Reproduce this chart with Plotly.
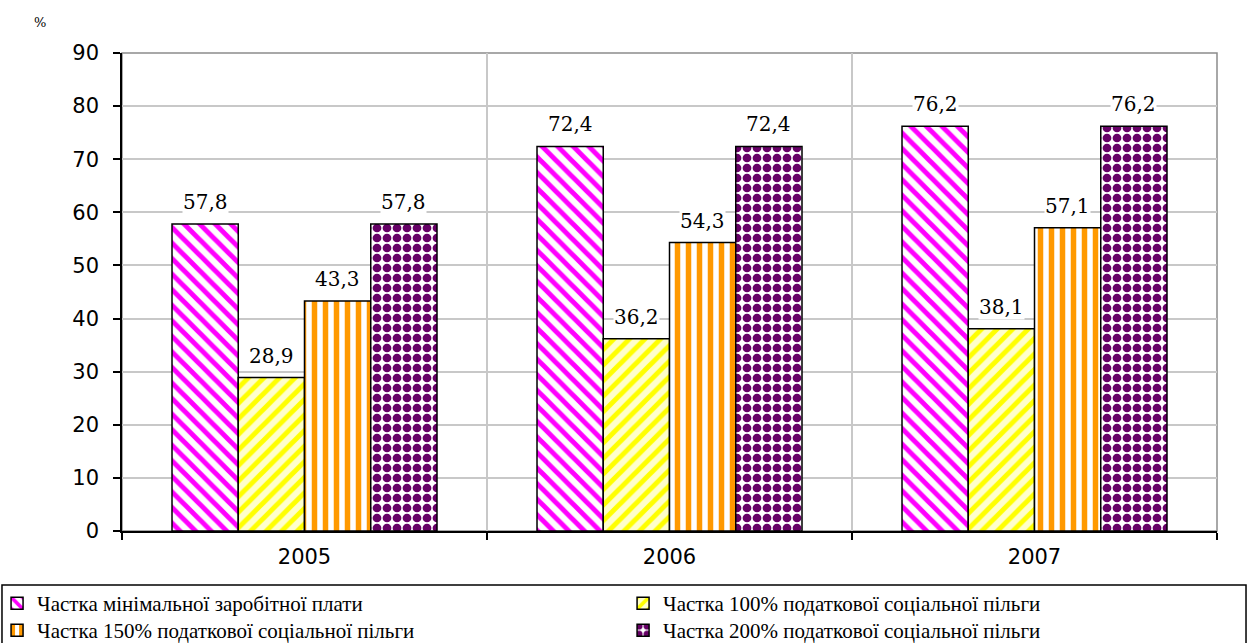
import plotly.graph_objects as go

years = ["2005", "2006", "2007"]
series_names = [
    "Частка мінімальної заробітної плати",
    "Частка 100% податкової соціальної пільги",
    "Частка 150% податкової соціальної пільги",
    "Частка 200% податкової соціальної пільги",
]
min_wage = [57.8, 72.4, 76.2]
benefit_100 = [28.9, 36.2, 38.1]
benefit_150 = [43.3, 54.3, 57.1]
benefit_200 = [57.8, 72.4, 76.2]
y_ticks = [0, 10, 20, 30, 40, 50, 60, 70, 80, 90]

series_values = [min_wage, benefit_100, benefit_150, benefit_200]
styles = [
    dict(shape="\\", fg="#FF00FF", bg="#FFFFFF", size=11, solidity=0.45),
    dict(shape="/", fg="#FFFF00", bg="#FFFFCC", size=11, solidity=0.45),
    dict(shape="|", fg="#FF9900", bg="#FFFFFF", size=11, solidity=0.5),
    dict(shape=".", fg="#660066", bg="#FFFFFF", size=10, solidity=0.6),
]
legend_ids = ["legend", "legend2", "legend3", "legend4"]

BARGAP = 0.274
fig = go.Figure()
for name, vals, st, lid in zip(series_names, series_values, styles, legend_ids):
    fig.add_trace(go.Bar(
        x=years, y=vals, name=name, legend=lid,
        marker=dict(
            color=st["bg"],
            line=dict(color="black", width=1.5),
            pattern=dict(shape=st["shape"], fgcolor=st["fg"], bgcolor=st["bg"],
                         size=st["size"], solidity=st["solidity"], fillmode="replace"),
        ),
    ))

# value labels with white background
n = len(series_values)
w = (1 - BARGAP) / n
for j, vals in enumerate(series_values):
    for i, v in enumerate(vals):
        fig.add_annotation(
            x=i + (j - (n - 1) / 2) * w, y=v, xref="x", yref="y",
            text=f"{v:.1f}".replace(".", ","), showarrow=False,
            yanchor="bottom", yshift=9, bgcolor="white", borderpad=0,
            font=dict(family="DejaVu Serif", size=20, color="black"),
        )

fig.add_annotation(x=-0.082, y=1.083, xref="paper", yref="paper", text="%",
                   showarrow=False, font=dict(family="DejaVu Serif", size=13, color="black"))

# plot-area frame
fig.add_shape(type="rect", xref="paper", yref="paper", x0=0, x1=1, y0=0, y1=1,
              line=dict(color="#8C8C8C", width=1.5), layer="below")
# legend frame (spans both legend columns)
fig.add_shape(type="rect", xref="paper", yref="paper", x0=-0.1096, x1=1.0265,
              y0=-0.113, y1=-0.30, line=dict(color="black", width=1.5),
              fillcolor="rgba(0,0,0,0)", layer="above")

legend_common = dict(
    orientation="v", yanchor="top", xanchor="left", xref="paper", yref="paper",
    bgcolor="rgba(0,0,0,0)", borderwidth=0, itemwidth=30, tracegroupgap=0,
    font=dict(family="Liberation Serif", size=21, color="black"),
)
col_x = [-0.1141, 0.4576]
row_y = [-0.1088, -0.1653]

fig.update_layout(
    width=1248, height=643,
    margin=dict(l=122, r=31, t=53, b=112, autoexpand=False),
    paper_bgcolor="white", plot_bgcolor="white",
    barmode="group", bargap=BARGAP, bargroupgap=0,
    showlegend=True,
    legend=dict(x=col_x[0], y=row_y[0], **legend_common),
    legend2=dict(x=col_x[1], y=row_y[0], **legend_common),
    legend3=dict(x=col_x[0], y=row_y[1], **legend_common),
    legend4=dict(x=col_x[1], y=row_y[1], **legend_common),
    xaxis=dict(
        type="category", tickson="boundaries", ticks="outside", ticklen=7,
        tickcolor="black", tickwidth=1.5,
        showline=True, linecolor="black", linewidth=1.5,
        showgrid=True, gridcolor="#C8C8C8", gridwidth=1.5,
        ticklabelstandoff=6,
        tickfont=dict(family="DejaVu Sans", size=21, color="black"),
    ),
    yaxis=dict(
        range=[0, 90], tickvals=y_ticks, ticks="outside", ticklen=7,
        tickcolor="black", tickwidth=1.5,
        showline=True, linecolor="black", linewidth=1.5,
        showgrid=True, gridcolor="#C8C8C8", gridwidth=1.5,
        zeroline=False, ticklabelstandoff=10,
        tickfont=dict(family="DejaVu Sans", size=21, color="black"),
    ),
)

fig.write_html("out.html")
